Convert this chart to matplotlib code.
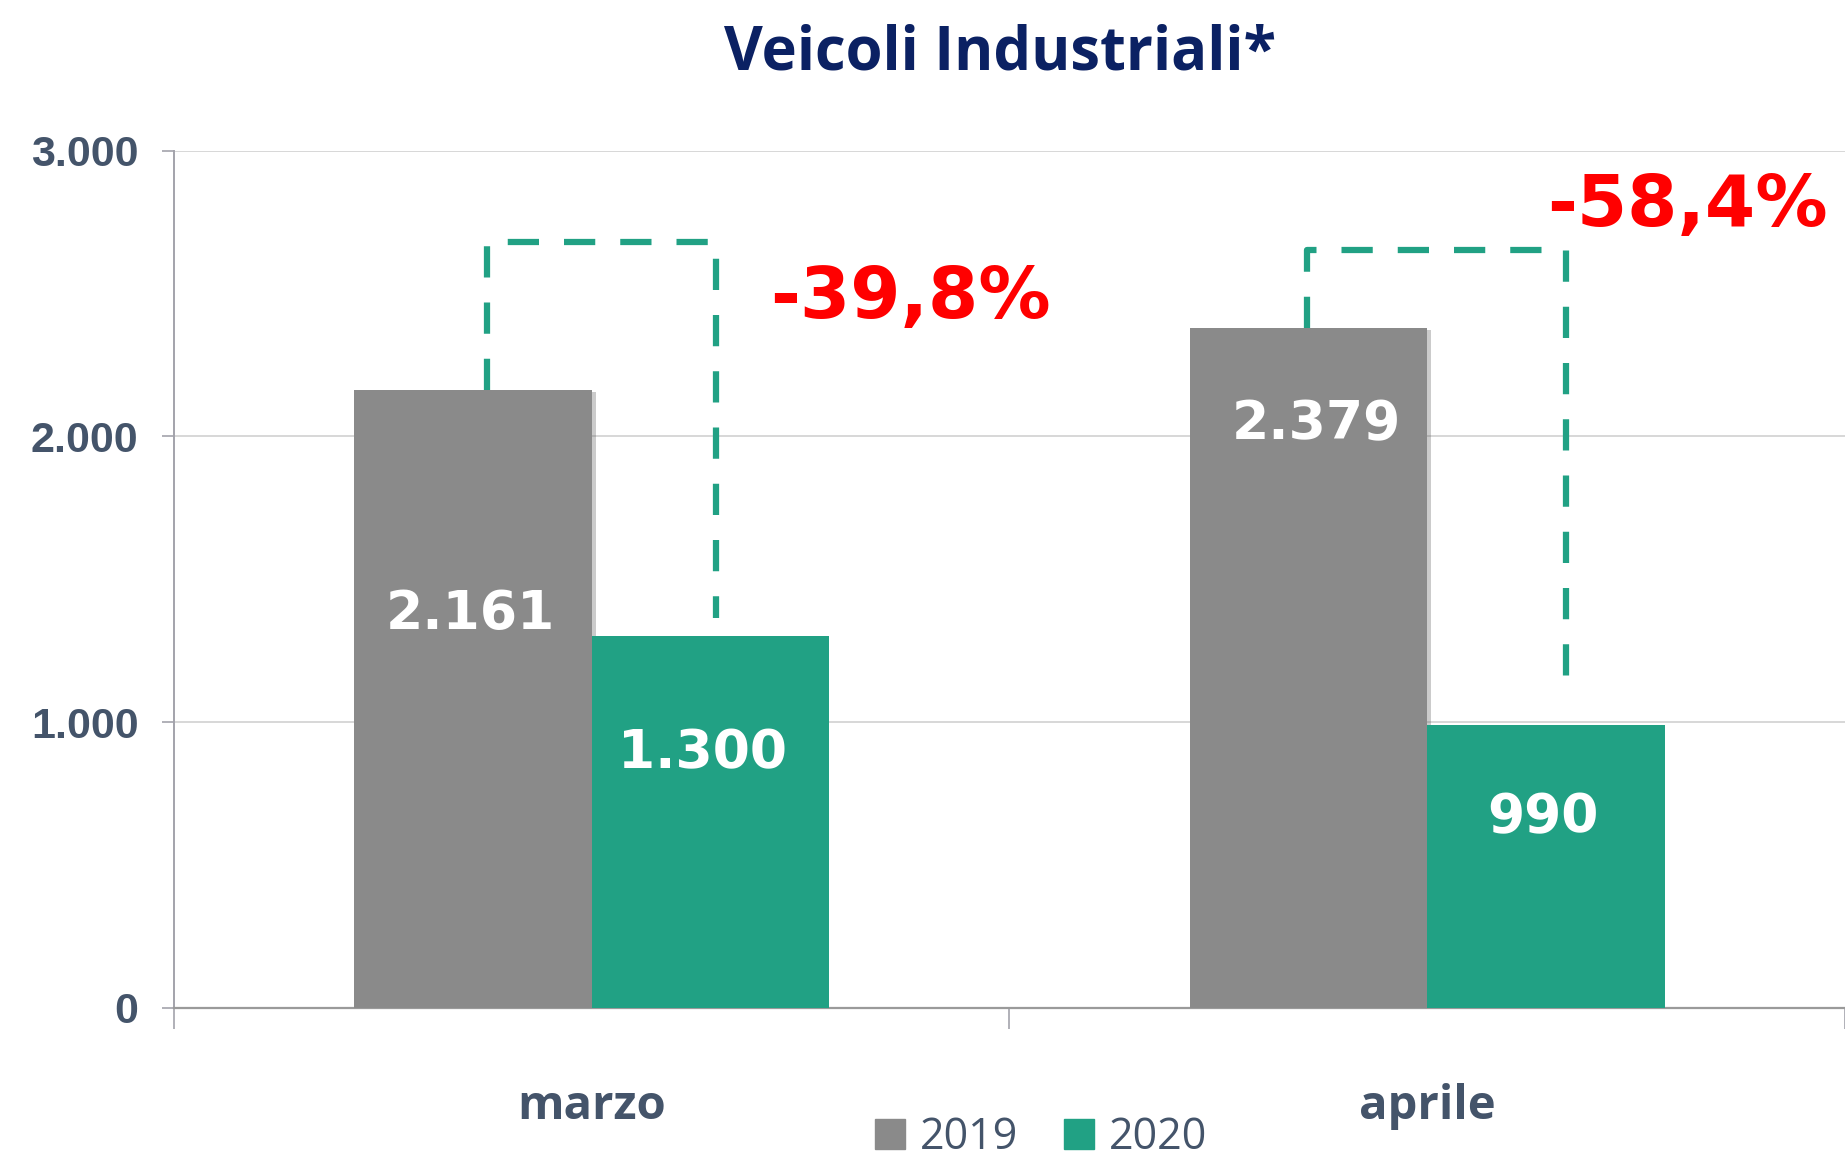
import numpy as np
import matplotlib
matplotlib.use("Agg")
import matplotlib.pyplot as plt
import matplotlib.patheffects as pe
from matplotlib.lines import Line2D

months  = ["marzo", "aprile"]
years   = ["2019", "2020"]
v2019   = [2161, 2379]
v2020   = [1300, 990]
changes = ["-39,8%", "-58,4%"]
yticks  = [0, 1000, 2000, 3000]
ytick_labels = ["0", "1.000", "2.000", "3.000"]

COL_2019  = "#8A8A8A"
COL_2020  = "#21A184"
COL_TEXT  = "#44546A"
COL_TITLE = "#0B2163"
COL_RED   = "#FF0000"
COL_GRID  = "#D4D4D4"
COL_AXIS  = "#A3A3AB"

BAR_W = 0.284

fig = plt.figure(figsize=(18.45, 11.59), dpi=100, facecolor="white")
ax = fig.add_axes([0.0943, 0.1303, 0.9057, 0.7397])

x = np.arange(len(months))
b19 = ax.bar(x - BAR_W / 2, v2019, BAR_W, color=COL_2019, zorder=3,
             path_effects=[pe.SimplePatchShadow(offset=(3, -1), alpha=0.3, shadow_rgbFace="#555555"),
                           pe.Normal()])
b20 = ax.bar(x + BAR_W / 2, v2020, BAR_W, color=COL_2020, zorder=4)

ax.set_xlim(-0.5, 1.5)
ax.set_ylim(0, 3000)

# data labels inside the bars (placed by hand, like on the slide)
lab_pos19 = [(-0.003, 1378), (0.009, 2042)]
lab_pos20 = [(-0.009, 892), (-0.003, 668)]
for i in range(len(months)):
    dx, yy = lab_pos19[i]
    ax.text(x[i] - BAR_W / 2 + dx, yy, f"{v2019[i]:,}".replace(",", "."),
            ha="center", va="center", color="white", fontsize=38.5,
            fontweight="bold", family="DejaVu Sans", zorder=6)
    dx, yy = lab_pos20[i]
    ax.text(x[i] + BAR_W / 2 + dx, yy, f"{v2020[i]:,}".replace(",", "."),
            ha="center", va="center", color="white", fontsize=38.5,
            fontweight="bold", family="DejaVu Sans", zorder=6)

# dashed comparison brackets
br_top   = [2682, 2652]
br_end   = [1364, 1119]
br_dx_l  = [0.017, -0.002]
br_dx_r  = [0.007, 0.024]
for i in range(len(months)):
    xl = x[i] - BAR_W / 2 + br_dx_l[i]
    xr = x[i] + BAR_W / 2 + br_dx_r[i]
    ax.plot([xl, xl, xr, xr], [v2019[i], br_top[i], br_top[i], br_end[i]],
            color=COL_2020, lw=4.5, ls=(0, (5.0, 4.0)), zorder=2,
            solid_joinstyle="miter", dash_capstyle="butt")

# percentage change labels
pct_pos = [(0.382, 2483), (1.312, 2804)]
for i in range(len(months)):
    ax.text(pct_pos[i][0], pct_pos[i][1], changes[i], ha="center", va="center",
            color=COL_RED, fontsize=52, fontweight="bold",
            family="DejaVu Sans", zorder=6)

# axes styling
ax.set_yticks(yticks)
ax.set_yticklabels(ytick_labels)
ax.yaxis.grid(True, color=COL_GRID, lw=1.3, zorder=0)
ax.set_axisbelow(True)
for s in ["top", "right"]:
    ax.spines[s].set_visible(False)
ax.spines["left"].set_color(COL_AXIS)
ax.spines["left"].set_linewidth(1.4)
ax.spines["bottom"].set_color("#9A9A9A")
ax.spines["bottom"].set_linewidth(1.6)
ax.tick_params(axis="y", length=8.6, width=1.2, color=COL_AXIS, pad=17,
               labelsize=31, labelcolor=COL_TEXT)
for t in ax.get_yticklabels():
    t.set_fontweight("bold")
    t.set_family("Liberation Sans")

ax.set_xticks(x)
ax.set_xticklabels(months)
ax.set_xticks([-0.5, 0.5, 1.5], minor=True)
ax.tick_params(axis="x", which="major", length=0, pad=54, labelsize=34,
               labelcolor=COL_TEXT)
ax.tick_params(axis="x", which="minor", length=15, width=1.2, color=COL_AXIS)
for t in ax.get_xticklabels():
    t.set_fontweight("bold")
    t.set_family("Open Sans")
ax.spines["left"].set_bounds(0, 3000)

fig.text(0.542, 0.953, "Veicoli Industriali*", ha="center", va="center",
         color=COL_TITLE, fontsize=43, fontweight="bold", family="Open Sans")

handles = [Line2D([0], [0], marker="s", ls="none", markersize=21,
                  markerfacecolor=c, markeredgecolor=c, label=lbl)
           for c, lbl in zip([COL_2019, COL_2020], years)]
leg = fig.legend(handles=handles, loc="center", ncol=2, frameon=False,
                 bbox_to_anchor=(1040 / 1845, 1 - 1138 / 1159),
                 handlelength=0.8, handletextpad=0.3, columnspacing=1.0,
                 prop={"family": "Open Sans", "size": 31})
for t in leg.get_texts():
    t.set_color(COL_TEXT)

fig.savefig("out.png", dpi=100, facecolor="white")
